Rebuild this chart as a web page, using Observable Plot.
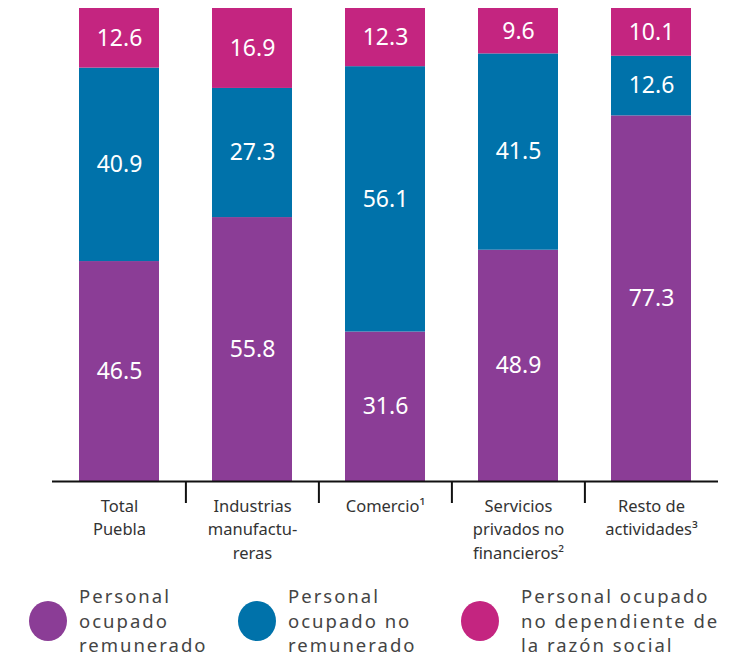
<!DOCTYPE html>
<html>
<head>
<meta charset="utf-8">
<script src="https://cdn.jsdelivr.net/npm/d3@7"></script>
<script src="https://cdn.jsdelivr.net/npm/@observablehq/plot@0.6"></script>
<style>
  html, body { margin: 0; padding: 0; background: #fff; }
  #wrap { position: relative; width: 749px; height: 660px; font-family: "Noto Sans", "Open Sans", sans-serif; }
  #legend { position: absolute; left: 0; top: 580px; width: 749px; height: 80px; }
  .item { position: absolute; top: 4px; display: flex; align-items: center; }
  .dot { width: 38px; height: 40px; border-radius: 50%; margin-right: 12px; }
  .lab { font-size: 18.5px; line-height: 24.5px; color: #444; letter-spacing: 2px; }
</style>
</head>
<body>
<div id="wrap"><div id="chart"></div><div id="legend"></div></div>
<script>
const categories = ["Total Puebla", "Industrias manufactureras", "Comercio", "Servicios privados no financieros", "Resto de actividades"];
const tickLabels = ["Total\nPuebla", "Industrias\nmanufactu-\nreras", "Comercio¹", "Servicios\nprivados no\nfinancieros²", "Resto de\nactividades³"];
const series = ["Personal ocupado remunerado", "Personal ocupado no remunerado", "Personal ocupado no dependiente de la razón social"];
const legendLabels = ["Personal<br>ocupado<br>remunerado", "Personal<br>ocupado no<br>remunerado", "Personal ocupado<br>no dependiente de<br>la razón social"];
const colors = ["#8B3D96", "#0072AA", "#C42580"];
const remunerado = [46.5, 55.8, 31.6, 48.9, 77.3];
const noRemunerado = [40.9, 27.3, 56.1, 41.5, 12.6];
const noDependiente = [12.6, 16.9, 12.3, 9.6, 10.1];

const values = [remunerado, noRemunerado, noDependiente];
const data = [];
series.forEach((s, si) => categories.forEach((c, ci) => data.push({cat: c, serie: s, value: values[si][ci]})));

const W = 749, H = 580, mL = 52, mR = 31, mT = 8, mB = 99;
const step = (W - mL - mR) / categories.length;

const chart = Plot.plot({
  width: W, height: H,
  marginLeft: mL, marginRight: mR, marginTop: mT, marginBottom: mB,
  style: {fontFamily: "'Noto Sans', 'Open Sans', sans-serif", background: "#fff"},
  x: {domain: categories, paddingInner: 0.4, paddingOuter: 0.2, label: null},
  y: {domain: [0, 100], axis: null},
  color: {domain: series, range: colors},
  marks: [
    Plot.barY(data, {x: "cat", y: "value", fill: "serie", z: "serie"}),
    Plot.text(data, Plot.stackY({x: "cat", y: "value", z: "serie", text: d => d.value.toFixed(1), fill: "white", fontSize: 23})),
    Plot.ruleY([0], {stroke: "#111", strokeWidth: 2}),
    Plot.ruleX(categories.slice(1), {x: d => d, dx: -step / 2, y1: 0, y2: 0, insetBottom: -22, stroke: "#111", strokeWidth: 2}),
    Plot.axisX({tickSize: 0, tickPadding: 13, tickFormat: (d) => tickLabels[categories.indexOf(d)], fontSize: 16.5, lineHeight: 1.45, color: "#333", label: null, textAnchor: "middle"})
  ]
});
document.getElementById("chart").appendChild(chart);

const lefts = [29, 238, 461];
const gaps = [12, 12, 22];
const leg = document.getElementById("legend");
series.forEach((s, i) => {
  const it = document.createElement("div");
  it.className = "item";
  it.style.left = lefts[i] + "px";
  it.innerHTML = `<div class="dot" style="background:${colors[i]};margin-right:${gaps[i]}px"></div><div class="lab">${legendLabels[i]}</div>`;
  leg.appendChild(it);
});
</script>
</body>
</html>
